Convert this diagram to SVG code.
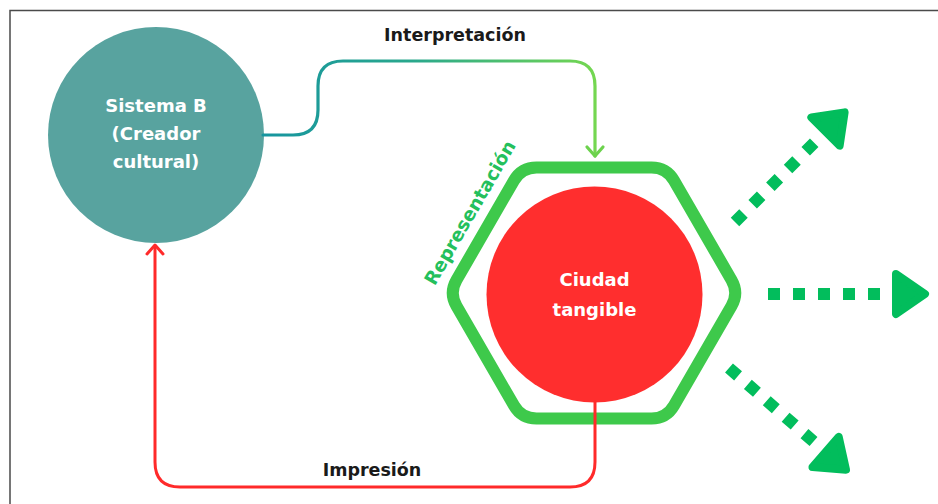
<svg xmlns="http://www.w3.org/2000/svg" width="938" height="504" viewBox="0 0 938 504">
  <style>
    .lbl { font-family: "DejaVu Sans", "Liberation Sans", sans-serif; font-weight: bold; text-anchor: middle; }
    .edge-lbl { font-size: 17.5px; fill: #1a1a1a; }
    .node-lbl { font-size: 18px; fill: #ffffff; }
    .dots { stroke: #02bd5c; stroke-width: 12; stroke-dasharray: 12 13; fill: none; }
    .tri { fill: #02bd5c; stroke: #02bd5c; stroke-width: 8; stroke-linejoin: round; }
  </style>
  <defs>
    <linearGradient id="gInterp" gradientUnits="userSpaceOnUse" x1="263" y1="0" x2="600" y2="0">
      <stop offset="0" stop-color="#16959f"/>
      <stop offset="0.45" stop-color="#2aa88c"/>
      <stop offset="1" stop-color="#76d84f"/>
    </linearGradient>
  </defs>
  <rect width="938" height="504" fill="#ffffff"/>
  <g id="frame" stroke="#4a4a4a" stroke-width="1.5" fill="none">
    <path d="M10,504 V10.5 H938"/>
  </g>

  <g id="node-sistema-b">
    <circle cx="156" cy="135" r="108" fill="#58a39f"/>
    <text class="lbl node-lbl" x="156" y="112">Sistema B</text>
    <text class="lbl node-lbl" x="156" y="140">(Creador</text>
    <text class="lbl node-lbl" x="156" y="168">cultural)</text>
  </g>

  <g id="node-representacion">
    <path d="M536.5,167.4 H651.5 Q666.5,167.4 674,180.4 L731.5,280 Q739,293 731.5,306 L674,405.6 Q666.5,418.6 651.5,418.6 H536.5 Q521.5,418.6 514,405.6 L456.5,306 Q449,293 456.5,280 L514,180.4 Q521.5,167.4 536.5,167.4 Z" fill="none" stroke="#3ec94b" stroke-width="12"/>
    <text class="lbl" font-size="18.5" fill="#24c05c" transform="translate(475.5,216) rotate(-60)" x="0" y="0">Representación</text>
  </g>

  <g id="node-ciudad">
    <circle cx="594.5" cy="294.5" r="108" fill="#ff2e2e"/>
    <text class="lbl node-lbl" x="594.5" y="286" font-size="18.5">Ciudad</text>
    <text class="lbl node-lbl" x="594.5" y="316" font-size="18.5">tangible</text>
  </g>

  <g id="connectors" fill="none" stroke-linecap="round" stroke-linejoin="round">
    <path d="M263,135 H293 Q318,135 318,110 V86 Q318,61 343,61 H570 Q595,61 595,86 V156" stroke="url(#gInterp)" stroke-width="3.2"/>
    <path d="M587,147 L595,156 L603,147" stroke="#6cd24d" stroke-width="3.2"/>
    <path d="M595,402 V462 Q595,487 570,487 H180 Q155,487 155,462 V246" stroke="#ff2a2a" stroke-width="3"/>
    <path d="M147,254 L155,245 L163,254" stroke="#ff2a2a" stroke-width="3"/>
    <text class="lbl edge-lbl" x="455" y="41" stroke="none">Interpretación</text>
    <text class="lbl edge-lbl" x="372" y="476" stroke="none">Impresión</text>
  </g>

  <g id="outputs">
    <g transform="translate(735,222) rotate(-45)">
      <line class="dots" x1="0" y1="0" x2="112" y2="0"/>
      <polygon class="tri" points="128,-20 155,0 128,20"/>
    </g>
    <g transform="translate(768,294)">
      <line class="dots" x1="0" y1="0" x2="112" y2="0"/>
      <polygon class="tri" points="128,-20 157,0 128,20"/>
    </g>
    <g transform="translate(729,368) rotate(41)">
      <line class="dots" x1="0" y1="0" x2="112" y2="0"/>
      <polygon class="tri" points="128,-20 155,0 128,20"/>
    </g>
  </g>
</svg>
